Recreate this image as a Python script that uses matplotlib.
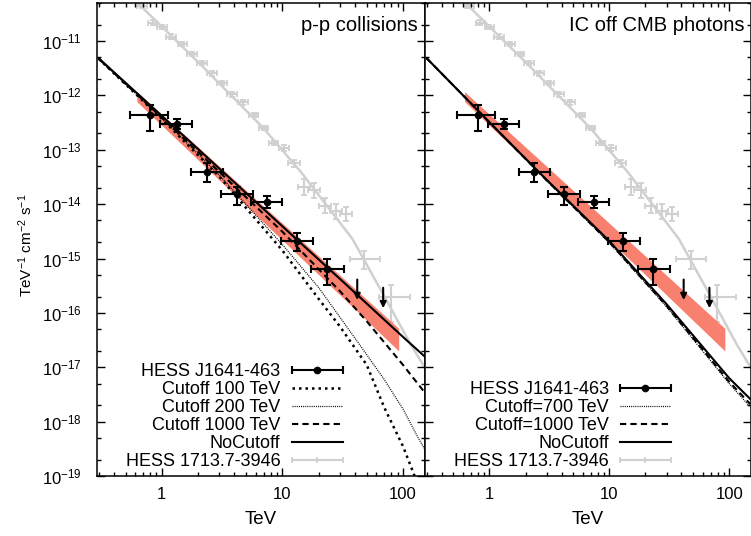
import matplotlib
matplotlib.use("Agg")
import matplotlib.pyplot as plt
import numpy as np
from matplotlib.ticker import LogLocator, FixedLocator, FixedFormatter, NullFormatter
from matplotlib.container import ErrorbarContainer
from matplotlib.legend_handler import HandlerErrorbar

plt.rcParams['font.family'] = ['Liberation Sans', 'DejaVu Sans']
plt.rcParams['font.size'] = 12
plt.rcParams['mathtext.fontset'] = 'custom'
plt.rcParams['mathtext.rm'] = 'Liberation Sans'
plt.rcParams['mathtext.it'] = 'Liberation Sans:italic'
plt.rcParams['mathtext.default'] = 'regular'

# HESS J1641-463 points (TeV, TeV^-1 cm^-2 s^-1)
j_e = [0.80, 1.33, 2.36, 4.19, 7.4, 13.1, 23.3]
j_elo = [0.54, 0.97, 1.75, 3.09, 5.5, 9.8, 17.4]
j_ehi = [1.12, 1.78, 3.19, 5.65, 10.0, 18.0, 32.3]
j_f = [4.4e-13, 3.0e-13, 3.9e-14, 1.56e-14, 1.1e-14, 2.1e-15, 6.3e-16]
j_flo = [2.26e-13, 2.4e-13, 2.5e-14, 9.8e-15, 8.5e-15, 1.36e-15, 3.3e-16]
j_fhi = [6.7e-13, 3.66e-13, 5.7e-14, 2.1e-14, 1.39e-14, 2.95e-15, 9.6e-16]
# upper limits
ul_e = [41.7, 68.4]
ul_f = [4.1e-16, 2.9e-16]

# HESS 1713.7-3946 points
r_e = [0.68, 0.84, 1.0, 1.2, 1.48, 1.79, 2.14, 2.59, 3.14, 3.81, 4.70, 5.77,
       6.98, 8.46, 10.3, 12.4, 15.1, 18.2, 22.4, 27.7, 33.5, 47.6, 79.4]
r_elo = [0.62, 0.77, 0.91, 1.09, 1.35, 1.63, 1.95, 2.36, 2.86, 3.47, 4.29, 5.26,
         6.37, 7.72, 9.4, 11.1, 13.5, 16.2, 20.0, 24.7, 29.9, 36.0, 63.0]
r_ehi = [0.75, 0.92, 1.10, 1.32, 1.62, 1.96, 2.35, 2.84, 3.44, 4.17, 5.15, 6.32,
         7.65, 9.27, 11.3, 13.9, 16.9, 20.4, 25.1, 31.0, 37.5, 64.5, 115.0]
r_f = [4.4e-11, 2.17e-11, 1.83e-11, 1.2e-11, 8.8e-12, 5.8e-12, 3.9e-12, 2.55e-12,
       1.67e-12, 1.05e-12, 7.4e-13, 4.4e-13, 2.5e-13, 1.33e-13, 1.07e-13, 5.7e-14,
       2.07e-14, 1.79e-14, 9.4e-15, 7.4e-15, 6.6e-15, 9.9e-16, 2.0e-16]
r_flo = [4.0e-11, 1.97e-11, 1.66e-11, 1.09e-11, 8.0e-12, 5.3e-12, 3.55e-12, 2.32e-12,
         1.52e-12, 9.5e-13, 6.7e-13, 4.0e-13, 2.27e-13, 1.2e-13, 9.3e-14, 4.9e-14,
         1.5e-14, 1.3e-14, 6.8e-15, 5.4e-15, 4.8e-15, 6.3e-16, 6.8e-17]
r_fhi = [4.8e-11, 2.39e-11, 2.0e-11, 1.32e-11, 9.7e-12, 6.4e-12, 4.3e-12, 2.8e-12,
         1.84e-12, 1.16e-12, 8.1e-13, 4.8e-13, 2.75e-13, 1.46e-13, 1.23e-13, 6.6e-14,
         2.85e-14, 2.45e-14, 1.3e-14, 1.02e-14, 9.0e-15, 1.37e-15, 3.3e-16]
# model curve through the 1713 points
rm_e = [0.63, 2.07, 6.95, 14.1, 38.0, 65.6, 116.0, 155.0]
rm_f = [5.0e-11, 3.8e-12, 2.5e-13, 4.0e-14, 2.3e-15, 2.6e-16, 2.6e-17, 9.0e-18]

# fit band
band_e = [0.62, 92.0]
band_lo = [7.7e-13, 2.0e-17]
band_hi = [1.17e-12, 5.2e-17]

# p-p models
pp_nocut_e = [0.3, 1, 3, 10, 30, 100, 155]
pp_nocut_f = [4.8e-12, 4.2e-13, 4.5e-14, 3.9e-15, 4.2e-16, 3.6e-17, 1.5e-17]
pp_c1000_e = [0.3, 1, 3, 10, 30, 50, 100, 155]
pp_c1000_f = [4.7e-12, 3.9e-13, 3.9e-14, 3.1e-15, 2.5e-16, 7.0e-17, 1.1e-17, 3.2e-18]
pp_c200_e = [0.3, 1, 3, 10, 20, 30, 50, 70, 100, 130, 155]
pp_c200_f = [4.7e-12, 3.8e-13, 3.4e-14, 1.8e-15, 2.9e-16, 8.3e-17, 1.7e-17, 5.9e-18,
             1.7e-18, 5.6e-19, 2.8e-19]
pp_c100_e = [0.3, 1, 3, 10, 20, 30, 50, 70, 100, 127]
pp_c100_f = [4.7e-12, 3.7e-13, 3.2e-14, 1.4e-15, 1.8e-16, 5.6e-17, 1.1e-17, 1.8e-18,
             3.5e-19, 9.0e-20]

# IC models
ic_e = [0.3, 1, 3, 10, 30, 100, 150]
ic_nocut_f = [4.8e-12, 3.2e-13, 2.8e-14, 2.1e-15, 1.45e-16, 6.3e-18, 2.6e-18]
ic_c1000_f = [4.8e-12, 3.2e-13, 2.75e-14, 2.0e-15, 1.35e-16, 5.4e-18, 2.1e-18]
ic_c700_f = [4.8e-12, 3.2e-13, 2.7e-14, 1.95e-15, 1.3e-16, 5.0e-18, 1.85e-18]

grey = '#d0d0d0'
band_col = '#f8806f'

fig = plt.figure(figsize=(7.51, 5.36), dpi=100)
ax1 = fig.add_axes([97/751, 60/536, 328/751, 473/536])
ax2 = fig.add_axes([425/751, 60/536, 326/751, 473/536])


def common(ax):
    # grey source, band, data
    ax.plot(rm_e, rm_f, color=grey, lw=1.8, zorder=1)
    xe = [np.subtract(r_e, r_elo), np.subtract(r_ehi, r_e)]
    ye = [np.subtract(r_f, r_flo), np.subtract(r_fhi, r_f)]
    g = ax.errorbar(r_e, r_f, xerr=xe, yerr=ye, fmt='+', color=grey, ms=5, mew=1.3,
                    elinewidth=1.5, capsize=2.3, capthick=1.5, zorder=1)
    ax.fill_between(band_e, band_lo, band_hi, color=band_col, lw=0, zorder=2)
    xe = [np.subtract(j_e, j_elo), np.subtract(j_ehi, j_e)]
    ye = [np.subtract(j_f, j_flo), np.subtract(j_fhi, j_f)]
    d = ax.errorbar(j_e, j_f, xerr=xe, yerr=ye, fmt='o', color='k', ms=4.5,
                    elinewidth=1.5, capsize=2.6, capthick=1.5, zorder=5)
    for e, f in zip(ul_e, ul_f):
        ax.annotate('', xy=(e, f*0.42), xytext=(e, f),
                    arrowprops=dict(arrowstyle='-|>', color='k', lw=1.5,
                                    mutation_scale=9, shrinkA=0, shrinkB=0),
                    zorder=5)
    ax.set_xscale('log')
    ax.set_yscale('log')
    ax.set_xlim(0.29, 152)
    ax.set_ylim(1e-19, 5e-11)
    ax.xaxis.set_major_locator(FixedLocator([1, 10, 100]))
    ax.xaxis.set_major_formatter(FixedFormatter(['1', '10', '100']))
    ax.xaxis.set_minor_locator(LogLocator(base=10, subs=np.arange(2, 10), numticks=20))
    ax.xaxis.set_minor_formatter(NullFormatter())
    ax.yaxis.set_major_locator(FixedLocator(10.0**np.arange(-19, -10)))
    ax.yaxis.set_minor_locator(LogLocator(base=10, subs=(2.0, 5.0), numticks=20))
    ax.yaxis.set_minor_formatter(NullFormatter())
    ax.tick_params(which='both', direction='in', top=True, right=True, width=1.0)
    ax.tick_params(which='major', length=6)
    ax.tick_params(which='minor', length=3)
    ax.tick_params(axis='x', pad=8)
    ax.tick_params(axis='y', pad=11)
    for s in ax.spines.values():
        s.set_linewidth(1.1)
    ax.set_xlabel('TeV', fontsize=13.5)
    ax.xaxis.set_label_coords(0.5, -0.074)
    return d, g


d1, g1 = common(ax1)
d2, g2 = common(ax2)
ax2.tick_params(axis='y', labelleft=False)

dot_big = (0, (1.0, 1.6))
dot_fine = (0, (0.8, 0.9))
dash = (0, (3, 2))

# p-p panel
l100, = ax1.plot(pp_c100_e, pp_c100_f, color='k', lw=1.8, ls=dot_big, zorder=4)
l200, = ax1.plot(pp_c200_e, pp_c200_f, color='k', lw=0.9, ls=dot_fine, zorder=4)
l1000, = ax1.plot(pp_c1000_e, pp_c1000_f, color='k', lw=1.5, ls=dash, zorder=4)
lno, = ax1.plot(pp_nocut_e, pp_nocut_f, color='k', lw=1.5, zorder=4)

# IC panel
m700, = ax2.plot(ic_e, ic_c700_f, color='k', lw=0.9, ls=dot_fine, zorder=4)
m1000, = ax2.plot(ic_e, ic_c1000_f, color='k', lw=1.5, ls=dash, zorder=4)
mno, = ax2.plot(ic_e, ic_nocut_f, color='k', lw=1.5, zorder=4)

ax1.set_ylabel('TeV$^{-1}$ cm$^{-2}$ s$^{-1}$', fontsize=11)
ax1.yaxis.set_label_coords(-0.19, 0.488)

ax1.annotate('p-p collisions', xy=(1, 0.953), xycoords='axes fraction', fontsize=14.5,
             xytext=(-5, 0), textcoords='offset points', ha='right', va='center')
ax2.annotate('IC off CMB photons', xy=(1, 0.953), xycoords='axes fraction', fontsize=14.5,
             xytext=(-5, 0), textcoords='offset points', ha='right', va='center')

hmap = {ErrorbarContainer: HandlerErrorbar(xerr_size=1.42, yerr_size=0)}
ax1.legend([d1, l100, l200, l1000, lno, g1],
           ['HESS J1641-463', 'Cutoff 100 TeV', 'Cutoff 200 TeV', 'Cutoff 1000 TeV',
            'NoCutoff', 'HESS 1713.7-3946'],
           loc='lower right', bbox_to_anchor=(0.75, 0.012), frameon=False, fontsize=13,
           markerfirst=False, handlelength=2.84, handletextpad=0.62,
           labelspacing=0.06, borderpad=0, borderaxespad=0, handler_map=hmap)
ax2.legend([d2, m700, m1000, mno, g2],
           ['HESS J1641-463', 'Cutoff=700 TeV', 'Cutoff=1000 TeV', 'NoCutoff',
            'HESS 1713.7-3946'],
           loc='lower right', bbox_to_anchor=(0.755, 0.012), frameon=False, fontsize=13,
           markerfirst=False, handlelength=2.84, handletextpad=0.62,
           labelspacing=0.06, borderpad=0, borderaxespad=0, handler_map=hmap)

fig.savefig('out.png', dpi=100)
